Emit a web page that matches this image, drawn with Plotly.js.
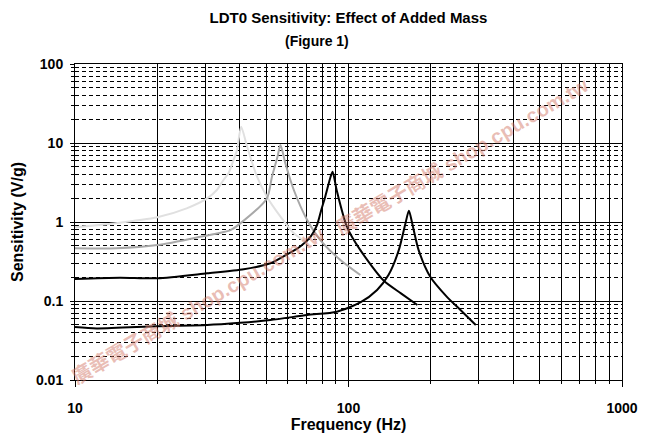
<!DOCTYPE html>
<html>
<head>
<meta charset="utf-8">
<script src="https://cdn.plot.ly/plotly-3.0.1.min.js"></script>
<style>html,body{margin:0;padding:0;background:#fff;}</style>
</head>
<body>
<div id="chart" style="width:646px;height:442px;"></div>
<script>
// Frequency (Hz) and sensitivity (V/g)
const freqA = [10, 13.8, 20, 25.6, 30.4, 33.0, 34.9, 36.4, 38.0, 39.1, 40.5, 42.6, 46.3, 50.3, 56.4, 63.1, 70.6, 72.6];
const sensA = [0.86, 0.96, 1.15, 1.49, 1.99, 2.54, 3.4, 4.13, 6.1, 8.1, 16.1, 8.98, 3.74, 2.09, 1.17, 0.72, 0.54, 0.49];

const freqB = [10, 14.2, 20, 28.7, 37, 40.2, 50.3, 52.5, 55.0, 56.4, 58.8, 63.1, 70.6, 78.9, 93.4, 110.5];
const sensB = [0.465, 0.465, 0.51, 0.65, 0.79, 0.96, 1.99, 3.74, 6.7, 9.44, 5.5, 2.54, 1.06, 0.59, 0.33, 0.213];

const freqC = [10, 14.6, 20, 30.4, 41.4, 51.8, 54.7, 66.6, 72.6, 76.7, 79.5, 82.2, 86.0, 87.5, 90.5, 98.7, 110.5, 134.7, 155.5, 178.6];
const sensC = [0.19, 0.197, 0.194, 0.224, 0.252, 0.30, 0.33, 0.49, 0.65, 0.916, 1.42, 2.09, 3.74, 4.33, 2.54, 0.87, 0.44, 0.18, 0.125, 0.089];

const freqD = [10, 12, 20, 30.4, 40.2, 51.8, 70.6, 90.6, 110.5, 127.2, 140, 152.7, 161.5, 166.3, 171, 180.5, 199, 229, 256.7, 292];
const sensD = [0.047, 0.045, 0.048, 0.0497, 0.053, 0.0574, 0.0664, 0.0733, 0.096, 0.138, 0.213, 0.44, 0.96, 1.39, 0.96, 0.44, 0.203, 0.113, 0.077, 0.0498];

const xMajor = [10, 100, 1000];
const xMajorText = ['10', '100', '1000'];
const yMajor = [0.01, 0.1, 1, 10, 100];
const yMajorText = ['0.01', '0.1', '1', '10', '100'];
const mult = [2, 3, 4, 5, 6, 7, 8, 9];
const xMinor = [10, 100].flatMap(d => mult.map(m => m * d));
const yMinor = [0.01, 0.1, 1, 10].flatMap(d => mult.map(m => m * d));

const FONT = 'Liberation Sans, Arial, Helvetica, sans-serif';

function series(x, y, color) {
  return {x: x, y: y, type: 'scatter', mode: 'lines',
          line: {color: color, width: 2, shape: 'spline', smoothing: 0.7},
          hoverinfo: 'skip', showlegend: false};
}

const data = [
  series(freqA, sensA, '#e0e0e0'),
  series(freqB, sensB, '#a8a8a8'),
  series(freqC, sensC, '#000000'),
  series(freqD, sensD, '#000000')
];

const wmFont = {family: 'Liberation Sans, Arial, Noto Sans CJK TC, sans-serif', size: 20,
                color: 'rgba(212,124,108,0.5)', weight: 700};

const layout = {
  width: 646, height: 442,
  margin: {l: 75, r: 24, t: 64, b: 62},
  paper_bgcolor: '#ffffff', plot_bgcolor: '#ffffff',
  showlegend: false,
  title: {
    text: '<b>LDT0 Sensitivity: Effect of Added Mass</b>',
    font: {family: FONT, size: 15, color: '#000'},
    x: 0.5, xref: 'paper', xanchor: 'center',
    y: 1 - 18 / 442, yref: 'container', yanchor: 'middle'
  },
  xaxis: {
    type: 'log', range: [1, 3],
    tickmode: 'array', tickvals: xMajor, ticktext: xMajorText,
    ticks: 'outside', ticklen: 6, tickcolor: '#000', tickwidth: 1,
    ticklabelstandoff: 9,
    tickfont: {family: FONT, size: 14, color: '#000', weight: 700},
    showgrid: true, gridcolor: '#000', gridwidth: 1,
    showline: true, linecolor: '#000', linewidth: 1, mirror: true,
    zeroline: false,
    minor: {tickmode: 'array', tickvals: xMinor, ticks: 'outside', ticklen: 3,
            tickcolor: '#000', showgrid: true, gridcolor: '#000', gridwidth: 1},
    title: {text: '<b>Frequency (Hz)</b>', font: {family: FONT, size: 16, color: '#000'}, standoff: 4}
  },
  yaxis: {
    type: 'log', range: [-2, 2],
    tickmode: 'array', tickvals: yMajor, ticktext: yMajorText,
    ticks: 'outside', ticklen: 4, tickcolor: '#000', tickwidth: 1,
    ticklabelstandoff: 4,
    tickfont: {family: FONT, size: 14, color: '#000', weight: 700},
    showgrid: true, gridcolor: '#000', gridwidth: 1,
    showline: true, linecolor: '#000', linewidth: 1, mirror: true,
    zeroline: false,
    minor: {tickmode: 'array', tickvals: yMinor, ticks: 'outside', ticklen: 3,
            tickcolor: '#000', showgrid: true, gridcolor: '#000', gridwidth: 1,
            griddash: '4px,3px'},
    title: {text: '<b>Sensitivity (V/g)</b>', font: {family: FONT, size: 16, color: '#000'}, standoff: 8}
  },
  annotations: [
    {text: '<b>(Figure 1)</b>', xref: 'paper', yref: 'paper', x: (317 - 75) / 547, y: (380 - 41) / 316,
     xanchor: 'center', yanchor: 'middle', showarrow: false,
     font: {family: FONT, size: 14, color: '#000'}},
    {text: '廣華電子商城 shop.cpu.com.tw', xref: 'paper', yref: 'paper',
     x: (197 - 75) / 547, y: (380 - 305) / 316, xanchor: 'center', yanchor: 'middle',
     showarrow: false, textangle: -30.5, font: wmFont},
    {text: '廣華電子商城 shop.cpu.com.tw', xref: 'paper', yref: 'paper',
     x: (461 - 75) / 547, y: (380 - 156) / 316, xanchor: 'center', yanchor: 'middle',
     showarrow: false, textangle: -30.5, font: wmFont}
  ]
};

Plotly.newPlot('chart', data, layout, {displayModeBar: false, staticPlot: true});
</script>
</body>
</html>
